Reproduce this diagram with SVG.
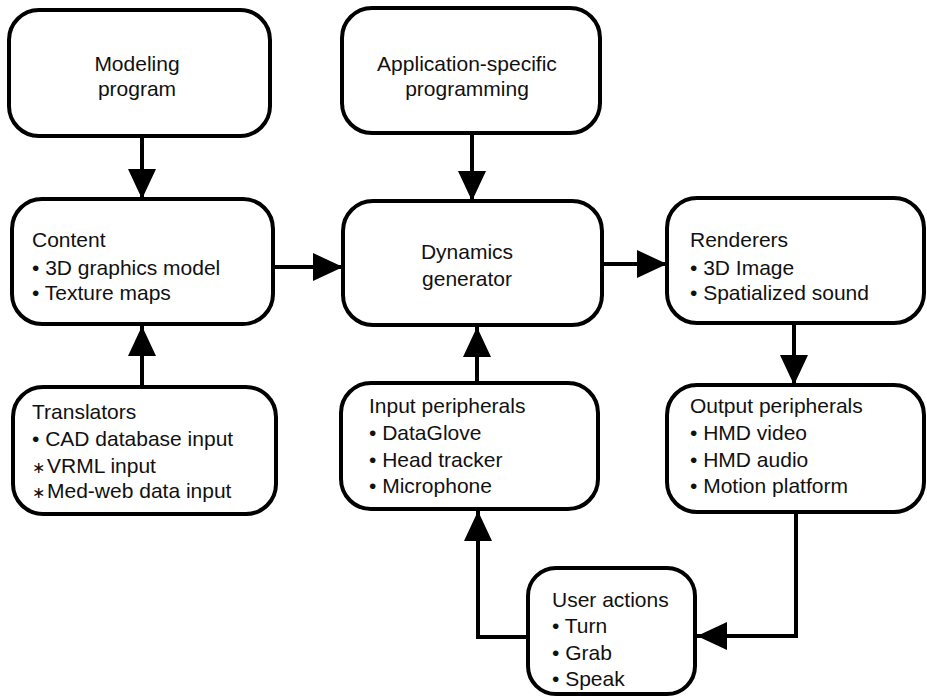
<svg xmlns="http://www.w3.org/2000/svg" width="927" height="696" viewBox="0 0 927 696">
  <style>
    .box { fill: #fff; stroke: #000; stroke-width: 4; }
    .lbl { font-family: "Liberation Sans", Arial, Helvetica, sans-serif; font-size: 21px; fill: #111; }
    .mid { text-anchor: middle; }
    .star { font-size: 16px; }
    .wire { fill: none; stroke: #000; stroke-width: 4; }
  </style>
  <defs>
    <marker id="head" viewBox="0 0 30 28" refX="30" refY="14" markerWidth="30" markerHeight="28" markerUnits="userSpaceOnUse" orient="auto">
      <path d="M0,0 L30,14 L0,28 Z" fill="#000"/>
    </marker>
  </defs>
  <rect width="927" height="696" fill="#fff"/>

  <g id="connectors">
    <path class="wire" d="M142,136 V199" marker-end="url(#head)"/>
    <path class="wire" d="M472,133 V201" marker-end="url(#head)"/>
    <path class="wire" d="M273,267 H343" marker-end="url(#head)"/>
    <path class="wire" d="M602,264 H667" marker-end="url(#head)"/>
    <path class="wire" d="M794,323 V385" marker-end="url(#head)"/>
    <path class="wire" d="M142,387 V326" marker-end="url(#head)"/>
    <path class="wire" d="M477,383 V327" marker-end="url(#head)"/>
    <path class="wire" d="M796,512 V636 H697" marker-end="url(#head)"/>
    <path class="wire" d="M528,637 H478 V511" marker-end="url(#head)"/>
  </g>

  <g id="modeling">
    <rect class="box" x="9" y="10" width="261" height="126" rx="30"/>
    <text class="lbl mid" x="137" y="71">Modeling</text>
    <text class="lbl mid" x="137" y="96">program</text>
  </g>

  <g id="application">
    <rect class="box" x="342" y="8" width="258" height="125" rx="30"/>
    <text class="lbl mid" x="467" y="71">Application-specific</text>
    <text class="lbl mid" x="467" y="96">programming</text>
  </g>

  <g id="content">
    <rect class="box" x="12" y="199" width="261" height="125" rx="30"/>
    <text class="lbl" x="32" y="247">Content</text>
    <text class="lbl" x="32" y="275">• 3D graphics model</text>
    <text class="lbl" x="32" y="300">• Texture maps</text>
  </g>

  <g id="dynamics">
    <rect class="box" x="343" y="201" width="259" height="124" rx="30"/>
    <text class="lbl mid" x="467" y="259">Dynamics</text>
    <text class="lbl mid" x="467" y="286">generator</text>
  </g>

  <g id="renderers">
    <rect class="box" x="667" y="198" width="257" height="125" rx="30"/>
    <text class="lbl" x="690" y="247">Renderers</text>
    <text class="lbl" x="690" y="275">• 3D Image</text>
    <text class="lbl" x="690" y="300">• Spatialized sound</text>
  </g>

  <g id="translators">
    <rect class="box" x="13" y="387" width="263" height="127" rx="30"/>
    <text class="lbl" x="32" y="419">Translators</text>
    <text class="lbl" x="32" y="446">• CAD database input</text>
    <text class="lbl" x="32" y="473"><tspan class="star">∗</tspan><tspan x="47">VRML input</tspan></text>
    <text class="lbl" x="32" y="498"><tspan class="star">∗</tspan><tspan x="47">Med-web data input</tspan></text>
  </g>

  <g id="input">
    <rect class="box" x="341" y="383" width="257" height="126" rx="30"/>
    <text class="lbl" x="369" y="413">Input peripherals</text>
    <text class="lbl" x="369" y="440">• DataGlove</text>
    <text class="lbl" x="369" y="467">• Head tracker</text>
    <text class="lbl" x="369" y="493">• Microphone</text>
  </g>

  <g id="output">
    <rect class="box" x="667" y="385" width="257" height="127" rx="30"/>
    <text class="lbl" x="690" y="413">Output peripherals</text>
    <text class="lbl" x="690" y="440">• HMD video</text>
    <text class="lbl" x="690" y="467">• HMD audio</text>
    <text class="lbl" x="690" y="493">• Motion platform</text>
  </g>

  <g id="user-actions">
    <rect class="box" x="528" y="568" width="167" height="126" rx="28"/>
    <text class="lbl" x="552" y="607">User actions</text>
    <text class="lbl" x="552" y="633">• Turn</text>
    <text class="lbl" x="552" y="660">• Grab</text>
    <text class="lbl" x="552" y="686">• Speak</text>
  </g>
</svg>
